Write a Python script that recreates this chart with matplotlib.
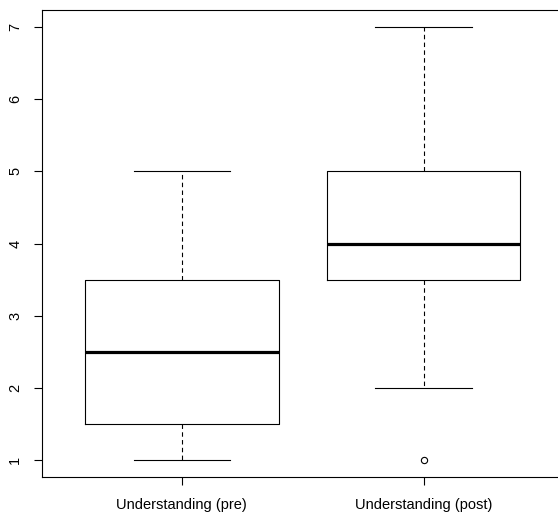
import matplotlib
matplotlib.use("Agg")
import matplotlib.pyplot as plt

plt.rcParams['font.family'] = ['Liberation Sans', 'DejaVu Sans']

# Box summaries
labels = ['Understanding (pre)', 'Understanding (post)']
whislo = [1, 2]
q1 = [1.5, 3.5]
med = [2.5, 4]
q3 = [3.5, 5]
whishi = [5, 7]
fliers = [[], [1]]
yticks = [1, 2, 3, 4, 5, 6, 7]

stats = []
for i in range(len(labels)):
    stats.append({'label': labels[i], 'whislo': whislo[i], 'q1': q1[i],
                  'med': med[i], 'q3': q3[i], 'whishi': whishi[i],
                  'fliers': fliers[i]})

W, H = 558, 516
fig = plt.figure(figsize=(W / 100, H / 100), dpi=100)
left, right = 41.6, 564.0
top, bot = 9.7, 477.3
ax = fig.add_axes([left / W, 1 - bot / H, (right - left) / W, (bot - top) / H])

ax.bxp(stats, positions=[1, 2], widths=0.8, showfliers=True,
       boxprops=dict(color='black', linewidth=0.8),
       medianprops=dict(color='black', linewidth=2.3, solid_capstyle='butt'),
       whiskerprops=dict(color='black', linewidth=0.8, linestyle=(0, (4, 3))),
       capprops=dict(color='black', linewidth=0.8),
       capwidths=0.4,
       flierprops=dict(marker='o', markerfacecolor='none', markeredgecolor='black',
                       markersize=4.5, markeredgewidth=0.8))

ax.set_xlim(0.42, 2.58)
ax.set_ylim(0.76, 7.24)
ax.set_yticks(yticks)
ax.set_yticklabels([str(v) for v in yticks], rotation=90, va='center')
ax.tick_params(axis='y', length=6, width=0.8, pad=8, labelsize=10.5)
ax.tick_params(axis='x', length=6, width=0.8, pad=9, labelsize=10.5)
for s in ax.spines.values():
    s.set_linewidth(0.8)

fig.savefig('out.png', dpi=100)
